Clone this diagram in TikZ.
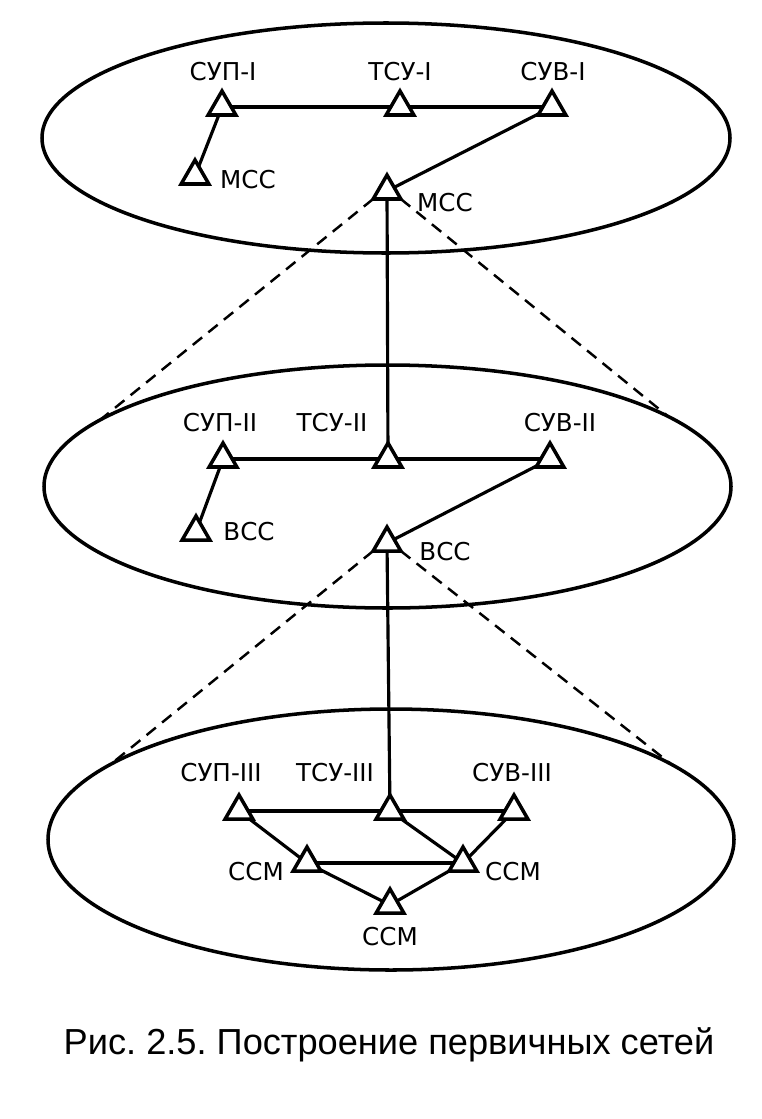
\documentclass[tikz,border=0pt]{standalone}
\usepackage{fontspec}
\setmainfont{DejaVu Sans}
\newfontfamily\capfont{Liberation Sans}
\usetikzlibrary{shapes.geometric}
\frenchspacing

\tikzset{
  lvl/.style={ellipse, draw, line width=1pt, inner sep=0pt, outer sep=0pt},
  tri/.style={regular polygon, regular polygon sides=3, draw, line width=1pt,
    minimum size=3.2mm, inner sep=0pt, outer sep=0pt},
  lbl/.style={inner sep=0pt, font=\fontsize{7}{8}\selectfont},
  link/.style={line width=0.9pt},
  proj/.style={line width=0.7pt, dash pattern=on 1.2mm off 0.8mm}
}

\begin{document}
\begin{tikzpicture}[x=0.1mm, y=-0.1mm]
  \useasboundingbox (0,0) rectangle (762,1119);

  % three levels
  \node[lvl, minimum width=68.8mm, minimum height=23mm] (levI) at (386,138) {};
  \node[lvl, minimum width=68.7mm, minimum height=24.3mm] (levII) at (387.5,486.5) {};
  \node[lvl, minimum width=68.6mm, minimum height=26.1mm] (levIII) at (391,839.5) {};

  \foreach \n/\x/\y in {supI/222/107, tsuI/400/107, suvI/552/107, mccL/195/176, mccC/387/191,
    supII/223/459, tsuII/388/459, suvII/550/459, vccL/196/532, vccC/387/543,
    supIII/239/811, tsuIII/390/811, suvIII/514/811, ccmL/307/863, ccmR/463/863, ccmB/390/905}
    \node[tri] (\n) at (\x,\y) {};

  \foreach \n/\x/\y/\t in {supI/223/72/СУП-I, tsuI/400/72/ТСУ-I, suvI/553/72/СУВ-I,
    mccL/248/180/МСС, mccC/445/203/МСС,
    supII/220/423/СУП-II, tsuII/332/423/ТСУ-II, suvII/560/423/СУВ-II,
    vccL/249/532/ВСС, vccC/445/552/ВСС,
    supIII/221/773/СУП-III, tsuIII/335/773/ТСУ-III, suvIII/512/773/СУВ-III,
    ccmL/256/872/ССМ, ccmR/513/872/ССМ, ccmB/390/937/ССМ}
    \node[lbl] (l\n) at (\x,\y) {\t};

  \foreach \a/\b in {supI/tsuI, tsuI/suvI, supI/mccL, suvI/mccC, mccC/tsuII,
    supII/tsuII, tsuII/suvII, supII/vccL, suvII/vccC, vccC/tsuIII,
    supIII/tsuIII, tsuIII/suvIII, supIII/ccmL, tsuIII/ccmR, suvIII/ccmR,
    ccmL/ccmR, ccmL/ccmB, ccmR/ccmB}
    \draw[link] (\a) -- (\b);

  \begin{scope}[proj]
    \draw (mccC.corner 2) -- (levII.167.75);
    \draw (mccC.corner 3) -- (levII.14.45);
    \draw (vccC.corner 2) -- (levIII.165.8);
    \draw (vccC.corner 3) -- (levIII.15.2);
  \end{scope}

  \node[font=\capfont\fontsize{10.3}{12}\selectfont] (cap) at (389,1045)
    {Рис. 2.5. Построение первичных сетей};
\end{tikzpicture}
\end{document}
